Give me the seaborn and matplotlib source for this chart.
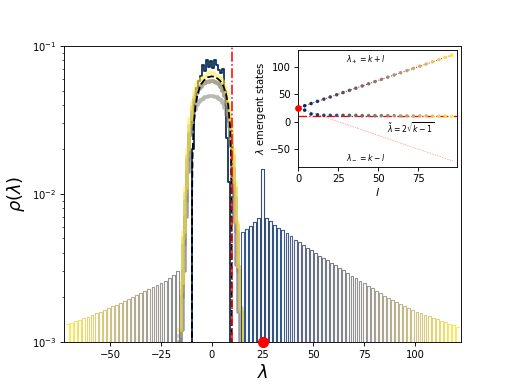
import numpy as np
import pandas as pd
import matplotlib
matplotlib.use("Agg")
import matplotlib.pyplot as plt
import seaborn as sns

k = 25
edge = 9.8  # 2*sqrt(k-1)

# isolated eigenvalues (outliers) - right of the bulk
right_lam = [15, 17, 19, 21, 23, 25, 27, 29, 31, 33, 35, 37, 39, 41, 43, 45, 47, 49,
             51, 53, 55, 57, 59, 61, 63, 65, 67, 69, 71, 73, 75, 77, 79, 81, 83, 85,
             87, 89, 91, 93, 95, 97, 99, 101, 103, 105, 107, 109, 111, 113, 115, 117, 119, 121]
right_rho = [0.0055, 0.0058, 0.0061, 0.0065, 0.0069, 0.0147, 0.0069, 0.0066, 0.0062, 0.0059,
             0.0057, 0.0054, 0.0052, 0.0049, 0.0047, 0.0045, 0.0043, 0.0042, 0.0040, 0.0038,
             0.0037, 0.00356, 0.00342, 0.00329, 0.00316, 0.00304, 0.0029, 0.00279, 0.00269,
             0.00258, 0.00249, 0.00239, 0.0023, 0.00221, 0.00213, 0.00205, 0.00198, 0.00191,
             0.00185, 0.00179, 0.00174, 0.00168, 0.00163, 0.00159, 0.00156, 0.00152, 0.00149,
             0.00145, 0.00142, 0.00139, 0.00135, 0.00132, 0.00129, 0.00126]
# outliers left of the bulk
left_lam = [-71, -69, -67, -65, -63, -61, -59, -57, -55, -53, -51, -49, -47, -45,
            -43, -41, -39, -37, -35, -33, -31, -29, -27, -25, -23, -21, -19, -17]
left_rho = [0.00131, 0.00134, 0.00138, 0.00141, 0.00144, 0.00148, 0.00152, 0.00156,
            0.00159, 0.00164, 0.00168, 0.00174, 0.00178, 0.00183, 0.00189, 0.00195,
            0.00201, 0.00208, 0.00214, 0.00221, 0.00228, 0.00235, 0.00243, 0.0025,
            0.00258, 0.00269, 0.00284, 0.00302]

# bulk spectra for a few l values
bulk_centers = [-15.5, -14.5, -13.5, -12.5, -11.5, -10.5, -9.5, -8.5, -7.5, -6.5, -5.5,
                -4.5, -3.5, -2.5, -1.5, -0.5, 0.5, 1.5, 2.5, 3.5, 4.5, 5.5, 6.5, 7.5,
                8.5, 9.5, 10.5, 11.5, 12.5, 13.5, 14.5, 15.5]
bulk_l0 = [0, 0, 0, 0, 0, 0, 0.02, 0.042, 0.052, 0.058, 0.063, 0.074, 0.068, 0.08, 0.072,
           0.079, 0.071, 0.08, 0.074, 0.069, 0.066, 0.07, 0.05, 0.024, 0.012, 0, 0, 0, 0, 0, 0, 0]
bulk_l24 = [0, 0.0012, 0.003, 0.007, 0.014, 0.025, 0.036, 0.043, 0.048, 0.051, 0.053, 0.055,
            0.056, 0.057, 0.057, 0.058, 0.058, 0.057, 0.056, 0.055, 0.053, 0.05, 0.046, 0.04,
            0.031, 0.021, 0.012, 0.0065, 0.0033, 0.0016, 0, 0]
bulk_l48 = [0.001, 0.002, 0.0045, 0.009, 0.017, 0.026, 0.033, 0.037, 0.04, 0.042, 0.043, 0.044,
            0.045, 0.045, 0.046, 0.046, 0.046, 0.045, 0.045, 0.044, 0.043, 0.041, 0.038, 0.034,
            0.029, 0.022, 0.015, 0.0095, 0.0055, 0.003, 0.0016, 0]
bulk_l72 = [0.0011, 0.0022, 0.005, 0.01, 0.018, 0.029, 0.039, 0.045, 0.049, 0.052, 0.054, 0.055,
            0.056, 0.057, 0.058, 0.058, 0.058, 0.057, 0.056, 0.055, 0.053, 0.05, 0.046, 0.041,
            0.034, 0.026, 0.018, 0.011, 0.0062, 0.0032, 0.0017, 0]
bulk_l96 = [0.0012, 0.0025, 0.0055, 0.011, 0.02, 0.032, 0.042, 0.05, 0.055, 0.058, 0.06, 0.061,
            0.062, 0.063, 0.066, 0.066, 0.066, 0.064, 0.063, 0.061, 0.06, 0.057, 0.053, 0.048,
            0.04, 0.03, 0.02, 0.012, 0.0065, 0.0032, 0.0016, 0]

# Kesten-McKay density (dashed)
km_lam = [-9.8, -9.79, -9.7, -9.5, -9, -8, -7, -6, -5, -4, -2, 0, 2, 4, 5, 6, 7, 8, 9, 9.5, 9.7, 9.79, 9.8]
km_rho = [1e-5, 0.003, 0.0104, 0.0178, 0.0283, 0.0401, 0.0474, 0.0523, 0.0559, 0.0584, 0.0615, 0.0624,
          0.0615, 0.0584, 0.0559, 0.0523, 0.0474, 0.0401, 0.0283, 0.0178, 0.0104, 0.003, 1e-5]

# inset: emergent states vs l
inset_l = [4, 8, 12, 16, 20, 24, 28, 32, 36, 40, 44, 48, 52, 56, 60, 64, 68, 72, 76, 80, 84, 88, 92, 96]
inset_upper = [29, 33, 37, 41, 45, 49, 53, 57, 61, 65, 69, 73, 77, 81, 85, 89, 93, 97, 101, 105,
               109, 113, 117, 121]
inset_lower = [21, 14, 12.5, 11.5, 11.5, 11.5, 11.5, 11.5, 11.5, 11, 11, 11, 11, 11, 11, 10.5,
               10.5, 10.5, 10.5, 10.5, 10, 10, 10, 9.5]
line_l = [0, 97]

fig = plt.figure(figsize=(6.4, 4.8), dpi=80)
ax = fig.add_subplot(111)
ax.set_yscale('log')

bulk_edges = [c - 0.5 for c in bulk_centers] + [bulk_centers[-1] + 0.5]
hist_kw = dict(x='lam', weights='rho', hue='l', element='step', fill=False,
               palette='cividis', hue_norm=(0, 96), legend=False, ax=ax)

# l = 0 bulk (navy) underneath
navy = pd.DataFrame({'lam': bulk_centers, 'rho': bulk_l0, 'l': 0})
sns.histplot(data=navy, bins=bulk_edges, lw=1.6, alpha=0.95, **hist_kw)

# broader bulks for larger l, drawn as a thick band
for l, prof in [(24, bulk_l24), (48, bulk_l48), (72, bulk_l72), (96, bulk_l96)]:
    df = pd.DataFrame({'lam': bulk_centers, 'rho': prof, 'l': l})
    sns.histplot(data=df, bins=bulk_edges, lw=3.2, alpha=0.55, **hist_kw)

out = pd.DataFrame({'lam': right_lam + left_lam,
                    'rho': right_rho + left_rho,
                    'l': [abs(p - k) for p in right_lam] + [k - p for p in left_lam]})
half = 0.7
out_edges = sorted(set([p - half for p in out.lam] + [p + half for p in out.lam]))
sns.histplot(data=out, bins=out_edges, lw=1, alpha=0.8, **hist_kw)

sns.lineplot(x=km_lam, y=km_rho, color='black', linestyle='--', lw=1.6, sort=False,
             estimator=None, ax=ax)
ax.axvline(edge, color='red', ls='-.', lw=1.4)
ax.plot([k], [1e-3], 'o', color='red', ms=9, clip_on=False, zorder=10)

ax.set_xlim(-72.8, 122.6)
ax.set_ylim(1e-3, 1e-1)
ax.set_xlabel(r'$\lambda$', fontsize=16)
ax.set_ylabel(r'$\rho(\lambda)$', fontsize=16)
ax.tick_params(labelsize=9)

# inset
axi = fig.add_axes([0.5826, 0.5659, 0.3106, 0.3039])
sns.lineplot(x=line_l, y=[k + l for l in line_l], color='red', ls=':', lw=0.9, ax=axi)
sns.lineplot(x=line_l, y=[k - l for l in line_l], color='red', ls=':', lw=0.6, alpha=0.7, ax=axi)
axi.axhline(edge, color='red', ls='-.', lw=1.2)
sns.scatterplot(x=inset_l, y=inset_upper, hue=inset_l, palette='cividis', hue_norm=(0, 96),
                s=10, linewidth=0, legend=False, ax=axi, zorder=3)
sns.scatterplot(x=inset_l, y=inset_lower, hue=inset_l, palette='cividis', hue_norm=(0, 96),
                s=10, linewidth=0, legend=False, ax=axi, zorder=3)
axi.plot([0], [k], 'o', color='red', ms=5, clip_on=False, zorder=5)
axi.text(42, 112, r'$\lambda_+ = k + l$', fontsize=7, ha='center', va='center')
axi.text(70, -11.5, r'$\tilde{\lambda} = 2\sqrt{k-1}$', fontsize=7, ha='center', va='center')
axi.text(42, -64, r'$\lambda_- = k - l$', fontsize=7, ha='center', va='center')
axi.set_xlim(0, 99.5)
axi.set_ylim(-82, 130.5)
axi.set_xticks([0, 25, 50, 75])
axi.set_yticks([-50, 0, 50, 100])
axi.tick_params(labelsize=9)
axi.set_xlabel(r'$l$', fontsize=10, labelpad=1)
axi.set_ylabel(r'$\lambda$ emergent states', fontsize=9, labelpad=1)

fig.savefig('out.png', dpi=80)
